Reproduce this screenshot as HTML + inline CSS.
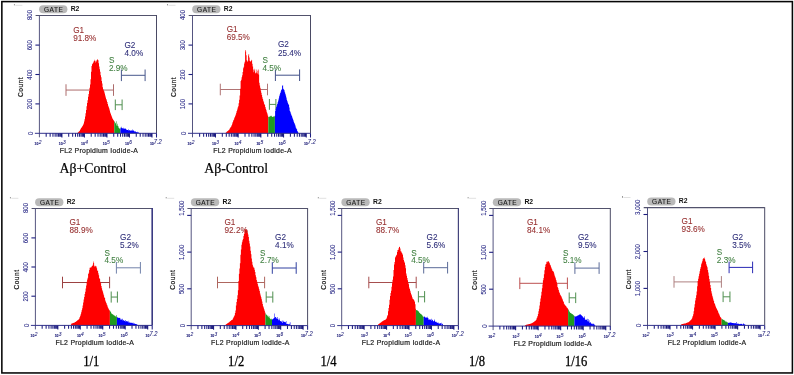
<!DOCTYPE html>
<html><head><meta charset="utf-8"><title>Cell cycle histograms</title>
<style>
html,body{margin:0;padding:0;background:#fff;}
body{width:794px;height:375px;overflow:hidden;font-family:"Liberation Sans",sans-serif;}
svg{display:block;will-change:transform;}
text{font-family:"Liberation Sans",sans-serif;}
.gl{font-size:8.2px;stroke-width:0.08px;}
.gate{font-size:6.5px;fill:#1a1a1a;stroke:#1a1a1a;stroke-width:0.12px;letter-spacing:0.55px;}
.r2{font-size:6.8px;font-weight:bold;fill:#111;}
.yt{font-size:6.6px;fill:#2c2c88;stroke:#2c2c88;stroke-width:0.08px;}
.cnt{font-size:6.7px;fill:#111;stroke:#111;stroke-width:0.18px;letter-spacing:0.45px;}
.xl{font-size:6.9px;fill:#1c1c1c;stroke:#1c1c1c;stroke-width:0.2px;letter-spacing:0.28px;}
.t10{font-size:3.5px;fill:#20207a;font-weight:bold;stroke:#20207a;stroke-width:0.1px;}
.texp{font-size:6.4px;fill:#20207a;font-style:italic;stroke:#20207a;stroke-width:0.08px;}
.cap{font-family:"Liberation Serif",serif;font-size:13.8px;fill:#000;stroke:#000;stroke-width:0.2px;}
.cap2{font-family:"Liberation Serif",serif;font-size:14px;fill:#000;stroke:#000;stroke-width:0.28px;}
</style></head><body>
<svg width="794" height="375" viewBox="0 0 794 375">
<rect x="0" y="0" width="794" height="375" fill="#ffffff"/>
<rect x="1.85" y="1.6" width="790.55" height="371.35" fill="none" stroke="#050505" stroke-width="1.55"/>
<circle cx="14.40" cy="4.70" r="0.55" fill="#555"/>
<path d="M15.40 5.30 h7" stroke="#ccc" stroke-width="0.6"/>
<rect x="39.10" y="5.20" width="28.30" height="8.00" rx="4" ry="4" fill="#b9b9b9"/>
<text x="53.65" y="11.80" class="gate" text-anchor="middle">GATE</text>
<text x="70.70" y="11.10" class="r2">R2</text>
<path d="M66.00 90.05 H113.50 M66.00 84.25 V95.85 M113.50 84.25 V95.85" stroke="#ad6c6c" stroke-width="1.00" fill="none"/>
<path d="M121.40 75.30 H145.10 M121.40 69.50 V81.10 M145.10 69.50 V81.10" stroke="#48588c" stroke-width="1.00" fill="none"/>
<path d="M115.30 99.50 V110.10 M122.10 99.50 V110.10 M115.30 104.80 H122.10" stroke="#4f8f4f" stroke-width="1" fill="none"/>
<path d="M77.50 133.30L77.50 132.67 L78.00 132.67L78.00 132.25 L78.50 132.25L78.50 131.73 L79.00 131.73L79.00 131.24 L79.50 131.24L79.50 130.65 L80.00 130.65L80.00 129.83 L80.50 129.83L80.50 128.84 L81.00 128.84L81.00 127.92 L81.50 127.92L81.50 127.25 L82.00 127.25L82.00 126.43 L82.50 126.43L82.50 125.65 L83.00 125.65L83.00 124.67 L83.50 124.67L83.50 123.58 L84.00 123.58L84.00 121.48 L84.50 121.48L84.50 119.18 L85.00 119.18L85.00 116.48 L85.50 116.48L85.50 113.17 L86.00 113.17L86.00 109.98 L86.50 109.98L86.50 106.34 L87.00 106.34L87.00 103.11 L87.50 103.11L87.50 100.30 L88.00 100.30L88.00 96.87 L88.50 96.87L88.50 94.02 L89.00 94.02L89.00 90.89 L89.50 90.89L89.50 87.65 L90.00 87.65L90.00 84.38 L90.50 84.38L90.50 79.36 L91.00 79.36L91.00 71.66 L91.50 71.66L91.50 65.91 L92.00 65.91L92.00 64.25 L92.50 64.25L92.50 63.38 L93.00 63.38L93.00 62.85 L93.50 62.85L93.50 61.55 L94.00 61.55L94.00 60.99 L94.50 60.99L94.50 59.66 L95.00 59.66L95.00 60.76 L95.50 60.76L95.50 62.57 L96.00 62.57L96.00 61.60 L96.50 61.60L96.50 60.29 L97.00 60.29L97.00 59.03 L97.50 59.03L97.50 60.03 L98.00 60.03L98.00 60.20 L98.50 60.20L98.50 63.17 L99.00 63.17L99.00 66.42 L99.50 66.42L99.50 69.15 L100.00 69.15L100.00 71.65 L100.50 71.65L100.50 75.33 L101.00 75.33L101.00 77.34 L101.50 77.34L101.50 80.93 L102.00 80.93L102.00 83.49 L102.50 83.49L102.50 87.18 L103.00 87.18L103.00 89.14 L103.50 89.14L103.50 90.55 L104.00 90.55L104.00 91.48 L104.50 91.48L104.50 93.39 L105.00 93.39L105.00 95.49 L105.50 95.49L105.50 97.38 L106.00 97.38L106.00 98.88 L106.50 98.88L106.50 100.61 L107.00 100.61L107.00 101.97 L107.50 101.97L107.50 104.08 L108.00 104.08L108.00 105.87 L108.50 105.87L108.50 107.17 L109.00 107.17L109.00 108.62 L109.50 108.62L109.50 110.47 L110.00 110.47L110.00 112.48 L110.50 112.48L110.50 113.71 L111.00 113.71L111.00 115.31 L111.50 115.31L111.50 116.41 L112.00 116.41L112.00 117.80 L112.50 117.80L112.50 119.04 L113.00 119.04L113.00 119.74 L113.50 119.74L113.50 120.56 L114.00 120.56L114.00 121.00 L114.30 121.00L114.30 133.30 Z" fill="#ff0000"/>
<path d="M114.30 133.30L114.30 121.00 L114.50 121.00L114.50 121.96 L115.00 121.96L115.00 122.64 L115.50 122.64L115.50 123.46 L116.00 123.46L116.00 121.21 L116.50 121.21L116.50 125.56 L117.00 125.56L117.00 125.86 L117.50 125.86L117.50 123.78 L118.00 123.78L118.00 126.23 L118.50 126.23L118.50 127.82 L119.00 127.82L119.00 128.41 L119.50 128.41L119.50 128.38 L120.00 128.38L120.00 127.44 L120.40 127.44L120.40 133.30 Z" fill="#1f9a1f"/>
<path d="M120.40 133.30L120.40 127.44 L120.50 127.44L120.50 128.57 L121.00 128.57L121.00 127.94 L121.50 127.94L121.50 126.80 L122.00 126.80L122.00 128.55 L122.50 128.55L122.50 127.90 L123.00 127.90L123.00 128.71 L123.50 128.71L123.50 127.75 L124.00 127.75L124.00 128.49 L124.50 128.49L124.50 128.72 L125.00 128.72L125.00 128.95 L125.50 128.95L125.50 128.27 L126.00 128.27L126.00 129.17 L126.50 129.17L126.50 129.93 L127.00 129.93L127.00 129.90 L127.50 129.90L127.50 130.07 L128.00 130.07L128.00 130.40 L128.50 130.40L128.50 129.17 L129.00 129.17L129.00 130.44 L129.50 130.44L129.50 130.01 L130.00 130.01L130.00 130.49 L130.50 130.49L130.50 130.80 L131.00 130.80L131.00 130.64 L131.50 130.64L131.50 130.15 L132.00 130.15L132.00 130.83 L132.50 130.83L132.50 129.54 L133.00 129.54L133.00 130.95 L133.50 130.95L133.50 130.09 L134.00 130.09L134.00 131.87 L134.50 131.87L134.50 131.00 L135.00 131.00L135.00 131.31 L135.50 131.31L135.50 131.82 L136.00 131.82L136.00 132.02 L136.50 132.02L136.50 132.35 L137.00 132.35L137.00 132.60 L137.50 132.60L137.50 131.68 L138.00 131.68L138.00 132.33 L138.50 132.33L138.50 132.81 L139.00 132.81L139.00 132.88 L139.50 132.88L139.50 132.96 L140.00 132.96L140.00 133.17 L140.50 133.17L140.50 133.12 L141.00 133.12L141.00 133.30 Z" fill="#0000ff"/>
<path d="M35.60 15.40 H156.50" stroke="#52526c" stroke-width="1.05" fill="none"/>
<path d="M156.50 15.00 V133.30" stroke="#4a4a64" stroke-width="1.00" fill="none"/>
<path d="M39.40 15.40 V137.30" stroke="#555580" stroke-width="1.0" fill="none"/>
<path d="M34.90 133.30 H156.50" stroke="#34348c" stroke-width="1.0" fill="none"/>
<path d="M46.18 133.30 v3.4M50.14 133.30 v3.4M52.96 133.30 v3.4M55.14 133.30 v3.4M56.92 133.30 v3.4M58.43 133.30 v3.4M59.74 133.30 v3.4M60.89 133.30 v3.4M61.92 133.30 v4.2M68.70 133.30 v3.4M72.66 133.30 v3.4M75.48 133.30 v3.4M77.66 133.30 v3.4M79.44 133.30 v3.4M80.95 133.30 v3.4M82.26 133.30 v3.4M83.41 133.30 v3.4M84.44 133.30 v4.2M91.22 133.30 v3.4M95.18 133.30 v3.4M98.00 133.30 v3.4M100.18 133.30 v3.4M101.96 133.30 v3.4M103.47 133.30 v3.4M104.78 133.30 v3.4M105.93 133.30 v3.4M106.96 133.30 v4.2M113.74 133.30 v3.4M117.70 133.30 v3.4M120.52 133.30 v3.4M122.70 133.30 v3.4M124.48 133.30 v3.4M125.99 133.30 v3.4M127.29 133.30 v3.4M128.45 133.30 v3.4M129.48 133.30 v4.2M136.26 133.30 v3.4M140.22 133.30 v3.4M143.03 133.30 v3.4M145.22 133.30 v3.4M147.00 133.30 v3.4M148.51 133.30 v3.4M149.81 133.30 v3.4M150.97 133.30 v3.4M152.00 133.30 v4.2M156.50 133.30 v4.2" stroke="#1c1c80" stroke-width="1.05" fill="none"/>
<text x="34.50" y="144.50" class="t10">10</text><text transform="translate(38.70 143.50) scale(0.85 1)" class="texp" style="font-size:5.8px">2</text>
<text x="58.72" y="144.50" class="t10">10</text><text transform="translate(62.92 143.50) scale(0.85 1)" class="texp" style="font-size:5.8px">3</text>
<text x="81.04" y="144.50" class="t10">10</text><text transform="translate(85.24 143.50) scale(0.85 1)" class="texp" style="font-size:5.8px">4</text>
<text x="102.76" y="144.50" class="t10">10</text><text transform="translate(106.96 143.50) scale(0.85 1)" class="texp" style="font-size:5.8px">5</text>
<text x="125.08" y="144.50" class="t10">10</text><text transform="translate(129.28 143.50) scale(0.85 1)" class="texp" style="font-size:5.8px">6</text>
<text x="149.90" y="144.50" class="t10">10</text><text transform="translate(153.70 143.50) scale(0.9 1)" class="texp">7.2</text>
<text transform="translate(32.80 133.30) rotate(-90) scale(0.93 1)" class="yt" text-anchor="middle">0</text>
<path d="M39.40 103.90 h-4" stroke="#1c1c80" stroke-width="1.1"/>
<text transform="translate(32.20 104.05) rotate(-90) scale(0.93 1)" class="yt" text-anchor="middle">200</text>
<path d="M39.40 74.50 h-4" stroke="#1c1c80" stroke-width="1.1"/>
<text transform="translate(32.20 74.65) rotate(-90) scale(0.93 1)" class="yt" text-anchor="middle">400</text>
<path d="M39.40 45.10 h-4" stroke="#1c1c80" stroke-width="1.1"/>
<text transform="translate(32.20 45.25) rotate(-90) scale(0.93 1)" class="yt" text-anchor="middle">600</text>
<text transform="translate(32.20 15.00) rotate(-90) scale(0.93 1)" class="yt" text-anchor="middle">800</text>
<text transform="translate(23.20 87.00) rotate(-90)" class="cnt" text-anchor="middle">Count</text>
<text x="98.95" y="152.70" class="xl" text-anchor="middle">FL2 Propidium Iodide-A</text>
<text x="73.20" y="32.70" fill="#962e2e" stroke="#962e2e" class="gl">G1</text><text x="73.20" y="40.60" fill="#962e2e" stroke="#962e2e" class="gl">91.8%</text>
<text x="124.50" y="47.80" fill="#2c2c78" stroke="#2c2c78" class="gl">G2</text><text x="124.50" y="55.90" fill="#2c2c78" stroke="#2c2c78" class="gl">4.0%</text>
<text x="108.90" y="62.80" fill="#3f7f3f" stroke="#3f7f3f" class="gl">S</text><text x="108.90" y="70.90" fill="#3f7f3f" stroke="#3f7f3f" class="gl">2.9%</text>
<circle cx="167.50" cy="4.70" r="0.55" fill="#555"/>
<path d="M168.50 5.30 h7" stroke="#ccc" stroke-width="0.6"/>
<rect x="192.20" y="5.20" width="28.30" height="8.00" rx="4" ry="4" fill="#b9b9b9"/>
<text x="206.75" y="11.80" class="gate" text-anchor="middle">GATE</text>
<text x="223.80" y="11.10" class="r2">R2</text>
<path d="M220.30 89.50 H267.50 M220.30 83.70 V95.30 M267.50 83.70 V95.30" stroke="#b07474" stroke-width="1.00" fill="none"/>
<path d="M275.40 75.20 H299.60 M275.40 69.40 V81.00 M299.60 69.40 V81.00" stroke="#425088" stroke-width="1.00" fill="none"/>
<path d="M269.40 99.00 V109.80 M275.90 99.00 V109.80 M269.40 104.40 H275.90" stroke="#4f8f4f" stroke-width="1" fill="none"/>
<path d="M225.60 133.30L225.60 132.70 L226.10 132.70L226.10 132.15 L226.60 132.15L226.60 131.79 L227.10 131.79L227.10 131.37 L227.60 131.37L227.60 130.99 L228.10 130.99L228.10 130.46 L228.60 130.46L228.60 130.10 L229.10 130.10L229.10 129.40 L229.60 129.40L229.60 128.57 L230.10 128.57L230.10 127.78 L230.60 127.78L230.60 127.00 L231.10 127.00L231.10 126.22 L231.60 126.22L231.60 124.93 L232.10 124.93L232.10 123.61 L232.60 123.61L232.60 122.09 L233.10 122.09L233.10 120.55 L233.60 120.55L233.60 119.73 L234.10 119.73L234.10 118.31 L234.60 118.31L234.60 117.00 L235.10 117.00L235.10 115.86 L235.60 115.86L235.60 114.40 L236.10 114.40L236.10 112.71 L236.60 112.71L236.60 110.91 L237.10 110.91L237.10 109.40 L237.60 109.40L237.60 107.46 L238.10 107.46L238.10 106.27 L238.60 106.27L238.60 103.15 L239.10 103.15L239.10 99.64 L239.60 99.64L239.60 95.52 L240.10 95.52L240.10 88.80 L240.60 88.80L240.60 81.02 L241.10 81.02L241.10 79.85 L241.60 79.85L241.60 77.28 L242.10 77.28L242.10 75.32 L242.60 75.32L242.60 72.04 L243.10 72.04L243.10 68.37 L243.60 68.37L243.60 66.69 L244.10 66.69L244.10 63.59 L244.60 63.59L244.60 61.69 L245.10 61.69L245.10 50.10 L245.60 50.10L245.60 51.46 L246.10 51.46L246.10 55.24 L246.60 55.24L246.60 60.37 L247.10 60.37L247.10 61.83 L247.60 61.83L247.60 60.71 L248.10 60.71L248.10 55.44 L248.60 55.44L248.60 54.02 L249.10 54.02L249.10 57.47 L249.60 57.47L249.60 60.77 L250.10 60.77L250.10 61.73 L250.60 61.73L250.60 61.02 L251.10 61.02L251.10 60.48 L251.60 60.48L251.60 59.64 L252.10 59.64L252.10 63.70 L252.60 63.70L252.60 66.40 L253.10 66.40L253.10 69.49 L253.60 69.49L253.60 72.35 L254.10 72.35L254.10 70.39 L254.60 70.39L254.60 68.72 L255.10 68.72L255.10 72.76 L255.60 72.76L255.60 73.55 L256.10 73.55L256.10 72.44 L256.60 72.44L256.60 69.61 L257.10 69.61L257.10 73.42 L257.60 73.42L257.60 70.81 L258.10 70.81L258.10 69.60 L258.60 69.60L258.60 74.54 L259.10 74.54L259.10 82.75 L259.60 82.75L259.60 85.44 L260.10 85.44L260.10 87.64 L260.60 87.64L260.60 90.61 L261.10 90.61L261.10 92.71 L261.60 92.71L261.60 95.03 L262.10 95.03L262.10 97.21 L262.60 97.21L262.60 98.99 L263.10 98.99L263.10 100.64 L263.60 100.64L263.60 102.30 L264.10 102.30L264.10 103.96 L264.60 103.96L264.60 104.97 L265.10 104.97L265.10 107.01 L265.60 107.01L265.60 108.66 L266.10 108.66L266.10 110.33 L266.60 110.33L266.60 112.13 L267.10 112.13L267.10 113.51 L267.60 113.51L267.60 115.45 L268.10 115.45L268.10 116.94 L268.30 116.94L268.30 133.30 Z" fill="#ff0000"/>
<path d="M268.30 133.30L268.30 116.94 L268.60 116.94L268.60 116.84 L269.10 116.84L269.10 116.65 L269.60 116.65L269.60 116.49 L270.10 116.49L270.10 116.14 L270.60 116.14L270.60 115.86 L271.10 115.86L271.10 115.67 L271.60 115.67L271.60 116.60 L272.10 116.60L272.10 116.97 L272.60 116.97L272.60 116.76 L273.10 116.76L273.10 116.46 L273.60 116.46L273.60 116.42 L274.10 116.42L274.10 116.43 L274.60 116.43L274.60 115.85 L274.90 115.85L274.90 133.30 Z" fill="#1f9a1f"/>
<path d="M274.90 133.30L274.90 115.85 L275.10 115.85L275.10 110.86 L275.60 110.86L275.60 108.84 L276.10 108.84L276.10 107.06 L276.60 107.06L276.60 105.49 L277.10 105.49L277.10 103.90 L277.60 103.90L277.60 102.37 L278.10 102.37L278.10 100.51 L278.60 100.51L278.60 98.55 L279.10 98.55L279.10 96.20 L279.60 96.20L279.60 94.56 L280.10 94.56L280.10 93.00 L280.60 93.00L280.60 91.61 L281.10 91.61L281.10 90.01 L281.60 90.01L281.60 89.30 L282.10 89.30L282.10 85.76 L282.60 85.76L282.60 85.19 L283.10 85.19L283.10 88.69 L283.60 88.69L283.60 89.50 L284.10 89.50L284.10 90.17 L284.60 90.17L284.60 92.21 L285.10 92.21L285.10 93.87 L285.60 93.87L285.60 95.41 L286.10 95.41L286.10 97.38 L286.60 97.38L286.60 99.66 L287.10 99.66L287.10 101.26 L287.60 101.26L287.60 102.84 L288.10 102.84L288.10 104.12 L288.60 104.12L288.60 104.97 L289.10 104.97L289.10 107.44 L289.60 107.44L289.60 110.82 L290.10 110.82L290.10 111.87 L290.60 111.87L290.60 113.53 L291.10 113.53L291.10 114.63 L291.60 114.63L291.60 116.07 L292.10 116.07L292.10 117.53 L292.60 117.53L292.60 118.82 L293.10 118.82L293.10 120.16 L293.60 120.16L293.60 121.68 L294.10 121.68L294.10 123.02 L294.60 123.02L294.60 124.36 L295.10 124.36L295.10 125.55 L295.60 125.55L295.60 127.52 L296.10 127.52L296.10 128.56 L296.60 128.56L296.60 129.14 L297.10 129.14L297.10 130.96 L297.60 130.96L297.60 131.86 L298.10 131.86L298.10 132.73 L298.60 132.73L298.60 133.30 Z" fill="#0000ff"/>
<path d="M188.70 15.40 H310.50" stroke="#52526c" stroke-width="1.05" fill="none"/>
<path d="M310.50 15.00 V133.30" stroke="#4a4a64" stroke-width="1.00" fill="none"/>
<path d="M192.50 15.40 V137.30" stroke="#555580" stroke-width="1.0" fill="none"/>
<path d="M188.00 133.30 H310.50" stroke="#34348c" stroke-width="1.0" fill="none"/>
<path d="M199.63 133.30 v3.4M203.63 133.30 v3.4M206.46 133.30 v3.4M208.66 133.30 v3.4M210.46 133.30 v3.4M211.98 133.30 v3.4M213.29 133.30 v3.4M214.45 133.30 v3.4M215.49 133.30 v4.2M222.32 133.30 v3.4M226.32 133.30 v3.4M229.15 133.30 v3.4M231.35 133.30 v3.4M233.15 133.30 v3.4M234.67 133.30 v3.4M235.99 133.30 v3.4M237.15 133.30 v3.4M238.18 133.30 v4.2M245.02 133.30 v3.4M249.01 133.30 v3.4M251.85 133.30 v3.4M254.05 133.30 v3.4M255.84 133.30 v3.4M257.36 133.30 v3.4M258.68 133.30 v3.4M259.84 133.30 v3.4M260.88 133.30 v4.2M267.71 133.30 v3.4M271.70 133.30 v3.4M274.54 133.30 v3.4M276.74 133.30 v3.4M278.53 133.30 v3.4M280.05 133.30 v3.4M281.37 133.30 v3.4M282.53 133.30 v3.4M283.57 133.30 v4.2M290.40 133.30 v3.4M294.40 133.30 v3.4M297.23 133.30 v3.4M299.43 133.30 v3.4M301.23 133.30 v3.4M302.75 133.30 v3.4M304.06 133.30 v3.4M305.22 133.30 v3.4M306.26 133.30 v4.2M310.50 133.30 v4.2" stroke="#1c1c80" stroke-width="1.05" fill="none"/>
<text x="187.60" y="144.50" class="t10">10</text><text transform="translate(191.80 143.50) scale(0.85 1)" class="texp" style="font-size:5.8px">2</text>
<text x="211.99" y="144.50" class="t10">10</text><text transform="translate(216.19 143.50) scale(0.85 1)" class="texp" style="font-size:5.8px">3</text>
<text x="234.48" y="144.50" class="t10">10</text><text transform="translate(238.68 143.50) scale(0.85 1)" class="texp" style="font-size:5.8px">4</text>
<text x="256.38" y="144.50" class="t10">10</text><text transform="translate(260.58 143.50) scale(0.85 1)" class="texp" style="font-size:5.8px">5</text>
<text x="278.87" y="144.50" class="t10">10</text><text transform="translate(283.07 143.50) scale(0.85 1)" class="texp" style="font-size:5.8px">6</text>
<text x="303.90" y="144.50" class="t10">10</text><text transform="translate(307.70 143.50) scale(0.9 1)" class="texp">7.2</text>
<text transform="translate(185.90 133.30) rotate(-90) scale(0.93 1)" class="yt" text-anchor="middle">0</text>
<path d="M192.50 103.90 h-4" stroke="#1c1c80" stroke-width="1.1"/>
<text transform="translate(185.30 104.05) rotate(-90) scale(0.93 1)" class="yt" text-anchor="middle">100</text>
<path d="M192.50 74.50 h-4" stroke="#1c1c80" stroke-width="1.1"/>
<text transform="translate(185.30 74.65) rotate(-90) scale(0.93 1)" class="yt" text-anchor="middle">200</text>
<path d="M192.50 45.10 h-4" stroke="#1c1c80" stroke-width="1.1"/>
<text transform="translate(185.30 45.25) rotate(-90) scale(0.93 1)" class="yt" text-anchor="middle">300</text>
<text transform="translate(185.30 15.00) rotate(-90) scale(0.93 1)" class="yt" text-anchor="middle">400</text>
<text transform="translate(176.30 87.00) rotate(-90)" class="cnt" text-anchor="middle">Count</text>
<text x="252.50" y="152.70" class="xl" text-anchor="middle">FL2 Propidium Iodide-A</text>
<text x="226.70" y="32.00" fill="#962e2e" stroke="#962e2e" class="gl">G1</text><text x="226.70" y="40.30" fill="#962e2e" stroke="#962e2e" class="gl">69.5%</text>
<text x="277.90" y="47.30" fill="#2c2c78" stroke="#2c2c78" class="gl">G2</text><text x="277.90" y="55.80" fill="#2c2c78" stroke="#2c2c78" class="gl">25.4%</text>
<text x="262.40" y="62.70" fill="#3f7f3f" stroke="#3f7f3f" class="gl">S</text><text x="262.40" y="70.80" fill="#3f7f3f" stroke="#3f7f3f" class="gl">4.5%</text>
<circle cx="10.40" cy="197.70" r="0.55" fill="#555"/>
<path d="M11.40 198.30 h7" stroke="#ccc" stroke-width="0.6"/>
<rect x="35.10" y="198.20" width="28.30" height="8.00" rx="4" ry="4" fill="#b9b9b9"/>
<text x="49.65" y="204.80" class="gate" text-anchor="middle">GATE</text>
<text x="66.70" y="204.10" class="r2">R2</text>
<path d="M62.50 282.50 H109.60 M62.50 276.70 V288.30 M109.60 276.70 V288.30" stroke="#9c4242" stroke-width="1.00" fill="none"/>
<path d="M116.40 267.80 H140.40 M116.40 262.00 V273.60 M140.40 262.00 V273.60" stroke="#7282aa" stroke-width="1.00" fill="none"/>
<path d="M111.20 291.50 V302.60 M117.40 291.50 V302.60 M111.20 297.05 H117.40" stroke="#4f8f4f" stroke-width="1" fill="none"/>
<path d="M71.10 325.40L71.10 323.71 L71.60 323.71L71.60 323.59 L72.10 323.59L72.10 323.23 L72.60 323.23L72.60 323.17 L73.10 323.17L73.10 322.88 L73.60 322.88L73.60 322.68 L74.10 322.68L74.10 322.65 L74.60 322.65L74.60 322.31 L75.10 322.31L75.10 322.01 L75.60 322.01L75.60 321.70 L76.10 321.70L76.10 321.36 L76.60 321.36L76.60 320.88 L77.10 320.88L77.10 320.57 L77.60 320.57L77.60 320.05 L78.10 320.05L78.10 319.73 L78.60 319.73L78.60 319.34 L79.10 319.34L79.10 318.39 L79.60 318.39L79.60 317.03 L80.10 317.03L80.10 315.67 L80.60 315.67L80.60 314.21 L81.10 314.21L81.10 312.29 L81.60 312.29L81.60 310.34 L82.10 310.34L82.10 308.13 L82.60 308.13L82.60 305.55 L83.10 305.55L83.10 302.58 L83.60 302.58L83.60 299.39 L84.10 299.39L84.10 296.97 L84.60 296.97L84.60 294.03 L85.10 294.03L85.10 291.64 L85.60 291.64L85.60 288.38 L86.10 288.38L86.10 285.42 L86.60 285.42L86.60 281.70 L87.10 281.70L87.10 279.45 L87.60 279.45L87.60 277.84 L88.10 277.84L88.10 274.03 L88.60 274.03L88.60 272.67 L89.10 272.67L89.10 269.99 L89.60 269.99L89.60 267.81 L90.10 267.81L90.10 267.65 L90.60 267.65L90.60 267.21 L91.10 267.21L91.10 267.19 L91.60 267.19L91.60 266.37 L92.10 266.37L92.10 265.96 L92.60 265.96L92.60 264.73 L93.10 264.73L93.10 261.53 L93.60 261.53L93.60 262.98 L94.10 262.98L94.10 265.80 L94.60 265.80L94.60 266.83 L95.10 266.83L95.10 265.74 L95.60 265.74L95.60 266.29 L96.10 266.29L96.10 266.56 L96.60 266.56L96.60 268.20 L97.10 268.20L97.10 270.83 L97.60 270.83L97.60 270.44 L98.10 270.44L98.10 273.20 L98.60 273.20L98.60 275.24 L99.10 275.24L99.10 278.18 L99.60 278.18L99.60 278.84 L100.10 278.84L100.10 281.84 L100.60 281.84L100.60 283.21 L101.10 283.21L101.10 285.90 L101.60 285.90L101.60 288.17 L102.10 288.17L102.10 290.26 L102.60 290.26L102.60 291.45 L103.10 291.45L103.10 293.45 L103.60 293.45L103.60 295.26 L104.10 295.26L104.10 297.32 L104.60 297.32L104.60 298.01 L105.10 298.01L105.10 300.58 L105.60 300.58L105.60 301.83 L106.10 301.83L106.10 302.92 L106.60 302.92L106.60 304.47 L107.10 304.47L107.10 305.62 L107.60 305.62L107.60 307.22 L108.10 307.22L108.10 308.17 L108.60 308.17L108.60 309.31 L109.10 309.31L109.10 310.23 L109.60 310.23L109.60 310.45 L109.90 310.45L109.90 325.40 Z" fill="#ff0000"/>
<path d="M109.90 325.40L109.90 310.45 L110.10 310.45L110.10 311.27 L110.60 311.27L110.60 312.05 L111.10 312.05L111.10 313.34 L111.60 313.34L111.60 313.68 L112.10 313.68L112.10 313.90 L112.60 313.90L112.60 314.61 L113.10 314.61L113.10 314.86 L113.60 314.86L113.60 315.17 L114.10 315.17L114.10 315.45 L114.60 315.45L114.60 315.86 L115.10 315.86L115.10 316.31 L115.60 316.31L115.60 316.58 L116.10 316.58L116.10 315.04 L116.60 315.04L116.60 316.68 L116.90 316.68L116.90 325.40 Z" fill="#1f9a1f"/>
<path d="M116.90 325.40L116.90 316.68 L117.10 316.68L117.10 317.40 L117.60 317.40L117.60 317.34 L118.10 317.34L118.10 318.05 L118.60 318.05L118.60 317.63 L119.10 317.63L119.10 318.07 L119.60 318.07L119.60 317.81 L120.10 317.81L120.10 319.80 L120.60 319.80L120.60 318.51 L121.10 318.51L121.10 320.07 L121.60 320.07L121.60 318.97 L122.10 318.97L122.10 318.82 L122.60 318.82L122.60 320.45 L123.10 320.45L123.10 319.90 L123.60 319.90L123.60 320.55 L124.10 320.55L124.10 320.66 L124.60 320.66L124.60 320.93 L125.10 320.93L125.10 320.04 L125.60 320.04L125.60 321.68 L126.10 321.68L126.10 320.89 L126.60 320.89L126.60 321.26 L127.10 321.26L127.10 320.96 L127.60 320.96L127.60 321.91 L128.10 321.91L128.10 322.41 L128.60 322.41L128.60 320.68 L129.10 320.68L129.10 322.42 L129.60 322.42L129.60 322.59 L130.10 322.59L130.10 322.52 L130.60 322.52L130.60 323.01 L131.10 323.01L131.10 322.84 L131.60 322.84L131.60 322.81 L132.10 322.81L132.10 323.17 L132.60 323.17L132.60 322.82 L133.10 322.82L133.10 322.87 L133.60 322.87L133.60 323.97 L134.10 323.97L134.10 323.38 L134.60 323.38L134.60 323.48 L135.10 323.48L135.10 324.06 L135.60 324.06L135.60 323.96 L136.10 323.96L136.10 324.34 L136.60 324.34L136.60 324.15 L137.10 324.15L137.10 324.75 L137.60 324.75L137.60 325.40 Z" fill="#0000ff"/>
<path d="M31.60 208.40 H152.20" stroke="#52526c" stroke-width="1.05" fill="none"/>
<path d="M152.20 208.00 V325.40" stroke="#3a3a82" stroke-width="1.60" fill="none"/>
<path d="M35.40 208.40 V329.40" stroke="#555580" stroke-width="1.0" fill="none"/>
<path d="M30.90 325.40 H152.20" stroke="#34348c" stroke-width="1.0" fill="none"/>
<path d="M42.16 325.40 v3.4M46.12 325.40 v3.4M48.92 325.40 v3.4M51.10 325.40 v3.4M52.88 325.40 v3.4M54.38 325.40 v3.4M55.68 325.40 v3.4M56.83 325.40 v3.4M57.86 325.40 v4.2M64.62 325.40 v3.4M68.58 325.40 v3.4M71.38 325.40 v3.4M73.56 325.40 v3.4M75.34 325.40 v3.4M76.84 325.40 v3.4M78.15 325.40 v3.4M79.30 325.40 v3.4M80.32 325.40 v4.2M87.08 325.40 v3.4M91.04 325.40 v3.4M93.85 325.40 v3.4M96.02 325.40 v3.4M97.80 325.40 v3.4M99.31 325.40 v3.4M100.61 325.40 v3.4M101.76 325.40 v3.4M102.78 325.40 v4.2M109.55 325.40 v3.4M113.50 325.40 v3.4M116.31 325.40 v3.4M118.48 325.40 v3.4M120.26 325.40 v3.4M121.77 325.40 v3.4M123.07 325.40 v3.4M124.22 325.40 v3.4M125.25 325.40 v4.2M132.01 325.40 v3.4M135.96 325.40 v3.4M138.77 325.40 v3.4M140.95 325.40 v3.4M142.72 325.40 v3.4M144.23 325.40 v3.4M145.53 325.40 v3.4M146.68 325.40 v3.4M147.71 325.40 v4.2M152.20 325.40 v4.2" stroke="#1c1c80" stroke-width="1.05" fill="none"/>
<text x="30.50" y="336.80" class="t10">10</text><text transform="translate(34.70 335.80) scale(0.85 1)" class="texp" style="font-size:5.8px">2</text>
<text x="54.66" y="336.80" class="t10">10</text><text transform="translate(58.86 335.80) scale(0.85 1)" class="texp" style="font-size:5.8px">3</text>
<text x="76.92" y="336.80" class="t10">10</text><text transform="translate(81.12 335.80) scale(0.85 1)" class="texp" style="font-size:5.8px">4</text>
<text x="98.58" y="336.80" class="t10">10</text><text transform="translate(102.78 335.80) scale(0.85 1)" class="texp" style="font-size:5.8px">5</text>
<text x="120.85" y="336.80" class="t10">10</text><text transform="translate(125.05 335.80) scale(0.85 1)" class="texp" style="font-size:5.8px">6</text>
<text x="145.60" y="336.80" class="t10">10</text><text transform="translate(149.40 335.80) scale(0.9 1)" class="texp">7.2</text>
<text transform="translate(28.80 325.40) rotate(-90) scale(0.93 1)" class="yt" text-anchor="middle">0</text>
<path d="M35.40 296.20 h-4" stroke="#1c1c80" stroke-width="1.1"/>
<text transform="translate(28.20 296.35) rotate(-90) scale(0.93 1)" class="yt" text-anchor="middle">200</text>
<path d="M35.40 267.00 h-4" stroke="#1c1c80" stroke-width="1.1"/>
<text transform="translate(28.20 267.15) rotate(-90) scale(0.93 1)" class="yt" text-anchor="middle">400</text>
<path d="M35.40 237.90 h-4" stroke="#1c1c80" stroke-width="1.1"/>
<text transform="translate(28.20 238.05) rotate(-90) scale(0.93 1)" class="yt" text-anchor="middle">600</text>
<text transform="translate(28.20 208.00) rotate(-90) scale(0.93 1)" class="yt" text-anchor="middle">800</text>
<text transform="translate(19.20 279.55) rotate(-90)" class="cnt" text-anchor="middle">Count</text>
<text x="94.80" y="344.80" class="xl" text-anchor="middle">FL2 Propidium Iodide-A</text>
<text x="69.50" y="224.90" fill="#962e2e" stroke="#962e2e" class="gl">G1</text><text x="69.50" y="232.80" fill="#962e2e" stroke="#962e2e" class="gl">88.9%</text>
<text x="120.10" y="240.30" fill="#2c2c78" stroke="#2c2c78" class="gl">G2</text><text x="120.10" y="248.40" fill="#2c2c78" stroke="#2c2c78" class="gl">5.2%</text>
<text x="104.50" y="255.70" fill="#3f7f3f" stroke="#3f7f3f" class="gl">S</text><text x="104.50" y="263.40" fill="#3f7f3f" stroke="#3f7f3f" class="gl">4.5%</text>
<circle cx="166.20" cy="197.70" r="0.55" fill="#555"/>
<path d="M167.20 198.30 h7" stroke="#ccc" stroke-width="0.6"/>
<rect x="190.90" y="198.20" width="28.30" height="8.00" rx="4" ry="4" fill="#b9b9b9"/>
<text x="205.45" y="204.80" class="gate" text-anchor="middle">GATE</text>
<text x="222.50" y="204.10" class="r2">R2</text>
<path d="M217.50 282.50 H264.60 M217.50 276.70 V288.30 M264.60 276.70 V288.30" stroke="#ae665e" stroke-width="1.00" fill="none"/>
<path d="M272.30 268.00 H296.20 M272.30 262.20 V273.80 M296.20 262.20 V273.80" stroke="#3040a0" stroke-width="1.00" fill="none"/>
<path d="M266.20 291.50 V302.60 M272.80 291.50 V302.60 M266.20 297.05 H272.80" stroke="#4f8f4f" stroke-width="1" fill="none"/>
<path d="M224.90 325.60L224.90 325.01 L225.40 325.01L225.40 324.66 L225.90 324.66L225.90 324.24 L226.40 324.24L226.40 323.94 L226.90 323.94L226.90 323.62 L227.40 323.62L227.40 323.24 L227.90 323.24L227.90 322.96 L228.40 322.96L228.40 322.46 L228.90 322.46L228.90 322.16 L229.40 322.16L229.40 321.69 L229.90 321.69L229.90 321.27 L230.40 321.27L230.40 320.90 L230.90 320.90L230.90 320.51 L231.40 320.51L231.40 320.11 L231.90 320.11L231.90 319.70 L232.40 319.70L232.40 319.42 L232.90 319.42L232.90 318.37 L233.40 318.37L233.40 317.15 L233.90 317.15L233.90 316.32 L234.40 316.32L234.40 315.24 L234.90 315.24L234.90 312.89 L235.40 312.89L235.40 310.62 L235.90 310.62L235.90 305.58 L236.40 305.58L236.40 301.96 L236.90 301.96L236.90 299.06 L237.40 299.06L237.40 295.30 L237.90 295.30L237.90 290.23 L238.40 290.23L238.40 281.07 L238.90 281.07L238.90 273.75 L239.40 273.75L239.40 268.59 L239.90 268.59L239.90 263.35 L240.40 263.35L240.40 254.85 L240.90 254.85L240.90 249.52 L241.40 249.52L241.40 244.67 L241.90 244.67L241.90 242.34 L242.40 242.34L242.40 240.35 L242.90 240.35L242.90 238.94 L243.40 238.94L243.40 235.95 L243.90 235.95L243.90 233.91 L244.40 233.91L244.40 229.46 L244.90 229.46L244.90 229.30 L245.40 229.30L245.40 229.53 L245.90 229.53L245.90 229.29 L246.40 229.29L246.40 229.74 L246.90 229.74L246.90 230.65 L247.40 230.65L247.40 232.52 L247.90 232.52L247.90 234.53 L248.40 234.53L248.40 236.90 L248.90 236.90L248.90 240.82 L249.40 240.82L249.40 243.52 L249.90 243.52L249.90 246.45 L250.40 246.45L250.40 250.66 L250.90 250.66L250.90 254.21 L251.40 254.21L251.40 258.59 L251.90 258.59L251.90 261.83 L252.40 261.83L252.40 264.83 L252.90 264.83L252.90 266.58 L253.40 266.58L253.40 267.48 L253.90 267.48L253.90 267.74 L254.40 267.74L254.40 269.65 L254.90 269.65L254.90 272.02 L255.40 272.02L255.40 275.29 L255.90 275.29L255.90 277.27 L256.40 277.27L256.40 279.99 L256.90 279.99L256.90 281.85 L257.40 281.85L257.40 283.67 L257.90 283.67L257.90 285.69 L258.40 285.69L258.40 287.37 L258.90 287.37L258.90 289.27 L259.40 289.27L259.40 291.00 L259.90 291.00L259.90 293.39 L260.40 293.39L260.40 295.52 L260.90 295.52L260.90 297.34 L261.40 297.34L261.40 299.33 L261.90 299.33L261.90 301.61 L262.40 301.61L262.40 303.92 L262.90 303.92L262.90 306.25 L263.40 306.25L263.40 307.44 L263.90 307.44L263.90 309.32 L264.40 309.32L264.40 310.64 L264.90 310.64L264.90 312.55 L265.40 312.55L265.40 325.60 Z" fill="#ff0000"/>
<path d="M265.40 325.60L265.40 313.55 L265.90 313.55L265.90 314.39 L266.40 314.39L266.40 314.84 L266.90 314.84L266.90 315.35 L267.40 315.35L267.40 316.35 L267.90 316.35L267.90 315.68 L268.40 315.68L268.40 316.93 L268.90 316.93L268.90 317.92 L269.40 317.92L269.40 316.33 L269.90 316.33L269.90 318.84 L270.40 318.84L270.40 319.19 L270.90 319.19L270.90 318.54 L271.40 318.54L271.40 319.33 L271.90 319.33L271.90 319.74 L272.00 319.74L272.00 325.60 Z" fill="#1f9a1f"/>
<path d="M272.00 325.60L272.00 319.74 L272.40 319.74L272.40 319.11 L272.90 319.11L272.90 318.93 L273.40 318.93L273.40 318.18 L273.90 318.18L273.90 318.11 L274.40 318.11L274.40 313.62 L274.90 313.62L274.90 316.90 L275.40 316.90L275.40 317.04 L275.90 317.04L275.90 318.59 L276.40 318.59L276.40 317.72 L276.90 317.72L276.90 319.09 L277.40 319.09L277.40 317.03 L277.90 317.03L277.90 318.77 L278.40 318.77L278.40 320.26 L278.90 320.26L278.90 319.91 L279.40 319.91L279.40 318.50 L279.90 318.50L279.90 321.09 L280.40 321.09L280.40 321.00 L280.90 321.00L280.90 321.97 L281.40 321.97L281.40 321.25 L281.90 321.25L281.90 320.59 L282.40 320.59L282.40 322.96 L282.90 322.96L282.90 320.67 L283.40 320.67L283.40 321.63 L283.90 321.63L283.90 321.88 L284.40 321.88L284.40 321.86 L284.90 321.86L284.90 322.31 L285.40 322.31L285.40 322.27 L285.90 322.27L285.90 321.12 L286.40 321.12L286.40 324.03 L286.90 324.03L286.90 323.71 L287.40 323.71L287.40 324.10 L287.90 324.10L287.90 324.17 L288.40 324.17L288.40 324.33 L288.90 324.33L288.90 324.55 L289.40 324.55L289.40 323.71 L289.90 323.71L289.90 322.14 L290.40 322.14L290.40 325.15 L290.90 325.15L290.90 325.29 L291.40 325.29L291.40 325.05 L291.90 325.05L291.90 325.15 L292.40 325.15L292.40 325.34 L292.90 325.34L292.90 325.32 L293.40 325.32L293.40 325.60 Z" fill="#0000ff"/>
<path d="M187.40 208.40 H307.60" stroke="#52526c" stroke-width="1.05" fill="none"/>
<path d="M307.60 208.00 V325.60" stroke="#4a4a64" stroke-width="1.00" fill="none"/>
<path d="M191.20 208.40 V329.60" stroke="#555580" stroke-width="1.0" fill="none"/>
<path d="M186.70 325.60 H307.60" stroke="#34348c" stroke-width="1.0" fill="none"/>
<path d="M197.94 325.60 v3.4M201.88 325.60 v3.4M204.68 325.60 v3.4M206.85 325.60 v3.4M208.62 325.60 v3.4M210.12 325.60 v3.4M211.42 325.60 v3.4M212.56 325.60 v3.4M213.58 325.60 v4.2M220.32 325.60 v3.4M224.26 325.60 v3.4M227.06 325.60 v3.4M229.23 325.60 v3.4M231.00 325.60 v3.4M232.50 325.60 v3.4M233.80 325.60 v3.4M234.94 325.60 v3.4M235.97 325.60 v4.2M242.71 325.60 v3.4M246.65 325.60 v3.4M249.45 325.60 v3.4M251.62 325.60 v3.4M253.39 325.60 v3.4M254.89 325.60 v3.4M256.18 325.60 v3.4M257.33 325.60 v3.4M258.35 325.60 v4.2M265.09 325.60 v3.4M269.03 325.60 v3.4M271.83 325.60 v3.4M274.00 325.60 v3.4M275.77 325.60 v3.4M277.27 325.60 v3.4M278.57 325.60 v3.4M279.71 325.60 v3.4M280.74 325.60 v4.2M287.48 325.60 v3.4M291.42 325.60 v3.4M294.22 325.60 v3.4M296.38 325.60 v3.4M298.16 325.60 v3.4M299.66 325.60 v3.4M300.95 325.60 v3.4M302.10 325.60 v3.4M303.12 325.60 v4.2M307.60 325.60 v4.2" stroke="#1c1c80" stroke-width="1.05" fill="none"/>
<text x="186.30" y="337.00" class="t10">10</text><text transform="translate(190.50 336.00) scale(0.85 1)" class="texp" style="font-size:5.8px">2</text>
<text x="210.38" y="337.00" class="t10">10</text><text transform="translate(214.58 336.00) scale(0.85 1)" class="texp" style="font-size:5.8px">3</text>
<text x="232.57" y="337.00" class="t10">10</text><text transform="translate(236.77 336.00) scale(0.85 1)" class="texp" style="font-size:5.8px">4</text>
<text x="254.15" y="337.00" class="t10">10</text><text transform="translate(258.35 336.00) scale(0.85 1)" class="texp" style="font-size:5.8px">5</text>
<text x="276.34" y="337.00" class="t10">10</text><text transform="translate(280.54 336.00) scale(0.85 1)" class="texp" style="font-size:5.8px">6</text>
<text x="301.00" y="337.00" class="t10">10</text><text transform="translate(304.80 336.00) scale(0.9 1)" class="texp">7.2</text>
<text transform="translate(184.60 325.60) rotate(-90) scale(0.93 1)" class="yt" text-anchor="middle">0</text>
<path d="M191.20 288.80 h-4" stroke="#1c1c80" stroke-width="1.1"/>
<text transform="translate(184.00 288.95) rotate(-90) scale(0.93 1)" class="yt" text-anchor="middle">500</text>
<path d="M191.20 252.10 h-4" stroke="#1c1c80" stroke-width="1.1"/>
<text transform="translate(184.00 252.25) rotate(-90) scale(0.93 1)" class="yt" text-anchor="middle">1,000</text>
<path d="M191.20 215.40 h-4" stroke="#1c1c80" stroke-width="1.1"/>
<text transform="translate(184.00 208.20) rotate(-90) scale(0.93 1)" class="yt" text-anchor="middle">1,500</text>
<text transform="translate(175.00 279.65) rotate(-90)" class="cnt" text-anchor="middle">Count</text>
<text x="250.40" y="345.00" class="xl" text-anchor="middle">FL2 Propidium Iodide-A</text>
<text x="224.50" y="224.90" fill="#962e2e" stroke="#962e2e" class="gl">G1</text><text x="224.50" y="232.80" fill="#962e2e" stroke="#962e2e" class="gl">92.2%</text>
<text x="275.10" y="240.30" fill="#2c2c78" stroke="#2c2c78" class="gl">G2</text><text x="275.10" y="248.40" fill="#2c2c78" stroke="#2c2c78" class="gl">4.1%</text>
<text x="260.10" y="255.70" fill="#3f7f3f" stroke="#3f7f3f" class="gl">S</text><text x="260.10" y="263.40" fill="#3f7f3f" stroke="#3f7f3f" class="gl">2.7%</text>
<circle cx="318.30" cy="197.70" r="0.55" fill="#555"/>
<path d="M319.30 198.30 h7" stroke="#ccc" stroke-width="0.6"/>
<rect x="341.40" y="198.20" width="28.30" height="8.00" rx="4" ry="4" fill="#b9b9b9"/>
<text x="355.95" y="204.80" class="gate" text-anchor="middle">GATE</text>
<text x="373.00" y="204.10" class="r2">R2</text>
<path d="M368.80 282.50 H416.20 M368.80 276.70 V288.30 M416.20 276.70 V288.30" stroke="#a64e4e" stroke-width="1.00" fill="none"/>
<path d="M423.70 267.70 H447.60 M423.70 261.90 V273.50 M447.60 261.90 V273.50" stroke="#5a6a98" stroke-width="1.00" fill="none"/>
<path d="M418.40 291.10 V302.40 M424.60 291.10 V302.40 M418.40 296.75 H424.60" stroke="#4f8f4f" stroke-width="1" fill="none"/>
<path d="M378.00 325.60L378.00 324.51 L378.50 324.51L378.50 324.05 L379.00 324.05L379.00 323.73 L379.50 323.73L379.50 323.18 L380.00 323.18L380.00 322.94 L380.50 322.94L380.50 322.43 L381.00 322.43L381.00 322.28 L381.50 322.28L381.50 321.85 L382.00 321.85L382.00 321.55 L382.50 321.55L382.50 321.08 L383.00 321.08L383.00 320.87 L383.50 320.87L383.50 320.54 L384.00 320.54L384.00 320.23 L384.50 320.23L384.50 320.02 L385.00 320.02L385.00 319.63 L385.50 319.63L385.50 319.42 L386.00 319.42L386.00 319.12 L386.50 319.12L386.50 317.74 L387.00 317.74L387.00 316.36 L387.50 316.36L387.50 315.07 L388.00 315.07L388.00 311.28 L388.50 311.28L388.50 307.89 L389.00 307.89L389.00 304.63 L389.50 304.63L389.50 299.64 L390.00 299.64L390.00 296.02 L390.50 296.02L390.50 292.98 L391.00 292.98L391.00 290.75 L391.50 290.75L391.50 286.86 L392.00 286.86L392.00 283.33 L392.50 283.33L392.50 279.82 L393.00 279.82L393.00 276.49 L393.50 276.49L393.50 269.95 L394.00 269.95L394.00 264.47 L394.50 264.47L394.50 261.92 L395.00 261.92L395.00 257.38 L395.50 257.38L395.50 256.42 L396.00 256.42L396.00 255.46 L396.50 255.46L396.50 254.76 L397.00 254.76L397.00 252.01 L397.50 252.01L397.50 249.99 L398.00 249.99L398.00 249.98 L398.50 249.98L398.50 248.14 L399.00 248.14L399.00 246.95 L399.50 246.95L399.50 246.71 L400.00 246.71L400.00 248.48 L400.50 248.48L400.50 251.28 L401.00 251.28L401.00 251.46 L401.50 251.46L401.50 252.74 L402.00 252.74L402.00 253.44 L402.50 253.44L402.50 254.68 L403.00 254.68L403.00 257.61 L403.50 257.61L403.50 259.92 L404.00 259.92L404.00 261.51 L404.50 261.51L404.50 262.64 L405.00 262.64L405.00 265.28 L405.50 265.28L405.50 268.31 L406.00 268.31L406.00 273.39 L406.50 273.39L406.50 275.77 L407.00 275.77L407.00 278.02 L407.50 278.02L407.50 280.16 L408.00 280.16L408.00 282.52 L408.50 282.52L408.50 284.36 L409.00 284.36L409.00 287.41 L409.50 287.41L409.50 289.11 L410.00 289.11L410.00 290.70 L410.50 290.70L410.50 292.71 L411.00 292.71L411.00 294.15 L411.50 294.15L411.50 295.62 L412.00 295.62L412.00 297.19 L412.50 297.19L412.50 298.79 L413.00 298.79L413.00 299.08 L413.50 299.08L413.50 299.80 L414.00 299.80L414.00 300.43 L414.50 300.43L414.50 301.78 L415.00 301.78L415.00 304.37 L415.50 304.37L415.50 308.81 L415.90 308.81L415.90 325.60 Z" fill="#ff0000"/>
<path d="M415.90 325.60L415.90 308.81 L416.00 308.81L416.00 309.98 L416.50 309.98L416.50 310.17 L417.00 310.17L417.00 310.37 L417.50 310.37L417.50 310.63 L418.00 310.63L418.00 311.18 L418.50 311.18L418.50 311.48 L419.00 311.48L419.00 312.59 L419.50 312.59L419.50 312.98 L420.00 312.98L420.00 313.60 L420.50 313.60L420.50 314.09 L421.00 314.09L421.00 314.34 L421.50 314.34L421.50 314.86 L422.00 314.86L422.00 315.37 L422.50 315.37L422.50 316.17 L423.00 316.17L423.00 316.38 L423.50 316.38L423.50 317.10 L423.70 317.10L423.70 325.60 Z" fill="#1f9a1f"/>
<path d="M423.70 325.60L423.70 317.10 L424.00 317.10L424.00 317.05 L424.50 317.05L424.50 316.33 L425.00 316.33L425.00 318.03 L425.50 318.03L425.50 316.92 L426.00 316.92L426.00 318.00 L426.50 318.00L426.50 317.04 L427.00 317.04L427.00 318.02 L427.50 318.02L427.50 316.86 L428.00 316.86L428.00 318.34 L428.50 318.34L428.50 319.71 L429.00 319.71L429.00 319.96 L429.50 319.96L429.50 319.01 L430.00 319.01L430.00 319.71 L430.50 319.71L430.50 319.52 L431.00 319.52L431.00 320.80 L431.50 320.80L431.50 318.86 L432.00 318.86L432.00 320.19 L432.50 320.19L432.50 319.70 L433.00 319.70L433.00 320.93 L433.50 320.93L433.50 321.60 L434.00 321.60L434.00 319.62 L434.50 319.62L434.50 320.83 L435.00 320.83L435.00 321.60 L435.50 321.60L435.50 322.06 L436.00 322.06L436.00 322.58 L436.50 322.58L436.50 321.79 L437.00 321.79L437.00 323.11 L437.50 323.11L437.50 322.45 L438.00 322.45L438.00 322.41 L438.50 322.41L438.50 323.61 L439.00 323.61L439.00 323.81 L439.50 323.81L439.50 323.37 L440.00 323.37L440.00 323.39 L440.50 323.39L440.50 322.96 L441.00 322.96L441.00 324.78 L441.50 324.78L441.50 322.65 L442.00 322.65L442.00 323.78 L442.50 323.78L442.50 324.29 L443.00 324.29L443.00 325.12 L443.50 325.12L443.50 325.19 L444.00 325.19L444.00 325.60 Z" fill="#0000ff"/>
<path d="M337.90 208.40 H458.40" stroke="#52526c" stroke-width="1.05" fill="none"/>
<path d="M458.40 208.00 V325.60" stroke="#44447c" stroke-width="1.20" fill="none"/>
<path d="M341.70 208.40 V329.60" stroke="#555580" stroke-width="1.0" fill="none"/>
<path d="M337.20 325.60 H458.40" stroke="#34348c" stroke-width="1.0" fill="none"/>
<path d="M348.46 325.60 v3.4M352.41 325.60 v3.4M355.21 325.60 v3.4M357.39 325.60 v3.4M359.16 325.60 v3.4M360.67 325.60 v3.4M361.97 325.60 v3.4M363.12 325.60 v3.4M364.14 325.60 v4.2M370.90 325.60 v3.4M374.85 325.60 v3.4M377.65 325.60 v3.4M379.83 325.60 v3.4M381.61 325.60 v3.4M383.11 325.60 v3.4M384.41 325.60 v3.4M385.56 325.60 v3.4M386.58 325.60 v4.2M393.34 325.60 v3.4M397.29 325.60 v3.4M400.10 325.60 v3.4M402.27 325.60 v3.4M404.05 325.60 v3.4M405.55 325.60 v3.4M406.85 325.60 v3.4M408.00 325.60 v3.4M409.03 325.60 v4.2M415.78 325.60 v3.4M419.73 325.60 v3.4M422.54 325.60 v3.4M424.71 325.60 v3.4M426.49 325.60 v3.4M427.99 325.60 v3.4M429.29 325.60 v3.4M430.44 325.60 v3.4M431.47 325.60 v4.2M438.23 325.60 v3.4M442.18 325.60 v3.4M444.98 325.60 v3.4M447.16 325.60 v3.4M448.93 325.60 v3.4M450.44 325.60 v3.4M451.74 325.60 v3.4M452.88 325.60 v3.4M453.91 325.60 v4.2M458.40 325.60 v4.2" stroke="#1c1c80" stroke-width="1.05" fill="none"/>
<text x="336.80" y="337.00" class="t10">10</text><text transform="translate(341.00 336.00) scale(0.85 1)" class="texp" style="font-size:5.8px">2</text>
<text x="360.94" y="337.00" class="t10">10</text><text transform="translate(365.14 336.00) scale(0.85 1)" class="texp" style="font-size:5.8px">3</text>
<text x="383.18" y="337.00" class="t10">10</text><text transform="translate(387.38 336.00) scale(0.85 1)" class="texp" style="font-size:5.8px">4</text>
<text x="404.83" y="337.00" class="t10">10</text><text transform="translate(409.03 336.00) scale(0.85 1)" class="texp" style="font-size:5.8px">5</text>
<text x="427.07" y="337.00" class="t10">10</text><text transform="translate(431.27 336.00) scale(0.85 1)" class="texp" style="font-size:5.8px">6</text>
<text x="451.80" y="337.00" class="t10">10</text><text transform="translate(455.60 336.00) scale(0.9 1)" class="texp">7.2</text>
<text transform="translate(335.10 325.60) rotate(-90) scale(0.93 1)" class="yt" text-anchor="middle">0</text>
<path d="M341.70 288.80 h-4" stroke="#1c1c80" stroke-width="1.1"/>
<text transform="translate(334.50 288.95) rotate(-90) scale(0.93 1)" class="yt" text-anchor="middle">500</text>
<path d="M341.70 252.10 h-4" stroke="#1c1c80" stroke-width="1.1"/>
<text transform="translate(334.50 252.25) rotate(-90) scale(0.93 1)" class="yt" text-anchor="middle">1,000</text>
<path d="M341.70 215.40 h-4" stroke="#1c1c80" stroke-width="1.1"/>
<text transform="translate(334.50 208.20) rotate(-90) scale(0.93 1)" class="yt" text-anchor="middle">1,500</text>
<text transform="translate(325.50 279.65) rotate(-90)" class="cnt" text-anchor="middle">Count</text>
<text x="401.05" y="345.00" class="xl" text-anchor="middle">FL2 Propidium Iodide-A</text>
<text x="376.00" y="224.90" fill="#962e2e" stroke="#962e2e" class="gl">G1</text><text x="376.00" y="232.80" fill="#962e2e" stroke="#962e2e" class="gl">88.7%</text>
<text x="426.60" y="240.30" fill="#2c2c78" stroke="#2c2c78" class="gl">G2</text><text x="426.60" y="248.40" fill="#2c2c78" stroke="#2c2c78" class="gl">5.6%</text>
<text x="411.20" y="255.70" fill="#3f7f3f" stroke="#3f7f3f" class="gl">S</text><text x="411.20" y="263.40" fill="#3f7f3f" stroke="#3f7f3f" class="gl">4.5%</text>
<circle cx="468.10" cy="197.70" r="0.55" fill="#555"/>
<path d="M469.10 198.30 h7" stroke="#ccc" stroke-width="0.6"/>
<rect x="492.80" y="198.20" width="28.30" height="8.00" rx="4" ry="4" fill="#b9b9b9"/>
<text x="507.35" y="204.80" class="gate" text-anchor="middle">GATE</text>
<text x="524.40" y="204.10" class="r2">R2</text>
<path d="M519.80 283.30 H567.40 M519.80 277.50 V289.10 M567.40 277.50 V289.10" stroke="#bc5050" stroke-width="1.00" fill="none"/>
<path d="M574.90 268.10 H599.10 M574.90 262.30 V273.90 M599.10 262.30 V273.90" stroke="#5c6c9a" stroke-width="1.00" fill="none"/>
<path d="M569.20 292.50 V303.10 M575.70 292.50 V303.10 M569.20 297.80 H575.70" stroke="#4f8f4f" stroke-width="1" fill="none"/>
<path d="M524.90 326.10L524.90 325.46 L525.40 325.46L525.40 325.00 L525.90 325.00L525.90 324.74 L526.40 324.74L526.40 324.66 L526.90 324.66L526.90 324.60 L527.40 324.60L527.40 324.39 L527.90 324.39L527.90 324.16 L528.40 324.16L528.40 324.14 L528.90 324.14L528.90 323.92 L529.40 323.92L529.40 323.93 L529.90 323.93L529.90 323.70 L530.40 323.70L530.40 323.70 L530.90 323.70L530.90 323.45 L531.40 323.45L531.40 323.26 L531.90 323.26L531.90 323.07 L532.40 323.07L532.40 322.76 L532.90 322.76L532.90 322.44 L533.40 322.44L533.40 322.12 L533.90 322.12L533.90 321.68 L534.40 321.68L534.40 321.23 L534.90 321.23L534.90 320.95 L535.40 320.95L535.40 320.43 L535.90 320.43L535.90 320.10 L536.40 320.10L536.40 318.61 L536.90 318.61L536.90 317.42 L537.40 317.42L537.40 315.99 L537.90 315.99L537.90 313.99 L538.40 313.99L538.40 311.32 L538.90 311.32L538.90 308.68 L539.40 308.68L539.40 305.48 L539.90 305.48L539.90 301.79 L540.40 301.79L540.40 298.39 L540.90 298.39L540.90 295.58 L541.40 295.58L541.40 291.69 L541.90 291.69L541.90 288.16 L542.40 288.16L542.40 284.52 L542.90 284.52L542.90 280.22 L543.40 280.22L543.40 278.05 L543.90 278.05L543.90 274.24 L544.40 274.24L544.40 270.32 L544.90 270.32L544.90 267.08 L545.40 267.08L545.40 264.40 L545.90 264.40L545.90 264.05 L546.40 264.05L546.40 261.73 L546.90 261.73L546.90 262.21 L547.40 262.21L547.40 261.41 L547.90 261.41L547.90 260.89 L548.40 260.89L548.40 261.46 L548.90 261.46L548.90 262.19 L549.40 262.19L549.40 263.32 L549.90 263.32L549.90 264.82 L550.40 264.82L550.40 265.42 L550.90 265.42L550.90 267.36 L551.40 267.36L551.40 268.62 L551.90 268.62L551.90 269.50 L552.40 269.50L552.40 270.89 L552.90 270.89L552.90 271.12 L553.40 271.12L553.40 271.93 L553.90 271.93L553.90 273.45 L554.40 273.45L554.40 275.60 L554.90 275.60L554.90 276.67 L555.40 276.67L555.40 278.32 L555.90 278.32L555.90 280.04 L556.40 280.04L556.40 281.65 L556.90 281.65L556.90 283.66 L557.40 283.66L557.40 286.93 L557.90 286.93L557.90 288.24 L558.40 288.24L558.40 289.95 L558.90 289.95L558.90 291.63 L559.40 291.63L559.40 293.08 L559.90 293.08L559.90 294.47 L560.40 294.47L560.40 295.37 L560.90 295.37L560.90 296.10 L561.40 296.10L561.40 297.24 L561.90 297.24L561.90 298.44 L562.40 298.44L562.40 299.53 L562.90 299.53L562.90 301.07 L563.40 301.07L563.40 302.11 L563.90 302.11L563.90 303.66 L564.40 303.66L564.40 304.46 L564.90 304.46L564.90 305.23 L565.40 305.23L565.40 305.69 L565.90 305.69L565.90 306.29 L566.40 306.29L566.40 307.23 L566.90 307.23L566.90 307.77 L567.40 307.77L567.40 308.15 L567.90 308.15L567.90 308.88 L568.10 308.88L568.10 326.10 Z" fill="#ff0000"/>
<path d="M568.10 326.10L568.10 308.88 L568.40 308.88L568.40 310.10 L568.90 310.10L568.90 311.00 L569.40 311.00L569.40 312.04 L569.90 312.04L569.90 312.78 L570.40 312.78L570.40 312.97 L570.90 312.97L570.90 313.14 L571.40 313.14L571.40 313.63 L571.90 313.63L571.90 313.91 L572.40 313.91L572.40 314.19 L572.90 314.19L572.90 314.78 L573.40 314.78L573.40 315.30 L573.90 315.30L573.90 315.68 L574.40 315.68L574.40 326.10 Z" fill="#1f9a1f"/>
<path d="M574.40 326.10L574.40 316.35 L574.90 316.35L574.90 316.43 L575.40 316.43L575.40 316.51 L575.90 316.51L575.90 316.24 L576.40 316.24L576.40 316.14 L576.90 316.14L576.90 315.94 L577.40 315.94L577.40 315.53 L577.90 315.53L577.90 315.35 L578.40 315.35L578.40 315.22 L578.90 315.22L578.90 314.79 L579.40 314.79L579.40 314.60 L579.90 314.60L579.90 314.26 L580.40 314.26L580.40 314.55 L580.90 314.55L580.90 315.08 L581.40 315.08L581.40 315.53 L581.90 315.53L581.90 316.03 L582.40 316.03L582.40 316.52 L582.90 316.52L582.90 317.22 L583.40 317.22L583.40 317.63 L583.90 317.63L583.90 317.82 L584.40 317.82L584.40 316.18 L584.90 316.18L584.90 319.38 L585.40 319.38L585.40 319.78 L585.90 319.78L585.90 319.90 L586.40 319.90L586.40 319.38 L586.90 319.38L586.90 318.78 L587.40 318.78L587.40 321.15 L587.90 321.15L587.90 318.97 L588.40 318.97L588.40 321.41 L588.90 321.41L588.90 320.29 L589.40 320.29L589.40 322.87 L589.90 322.87L589.90 322.55 L590.40 322.55L590.40 322.16 L590.90 322.16L590.90 323.47 L591.40 323.47L591.40 323.82 L591.90 323.82L591.90 323.42 L592.40 323.42L592.40 324.23 L592.90 324.23L592.90 323.67 L593.40 323.67L593.40 323.63 L593.90 323.63L593.90 324.75 L594.40 324.75L594.40 324.41 L594.90 324.41L594.90 325.71 L595.40 325.71L595.40 325.87 L595.90 325.87L595.90 326.10 Z" fill="#0000ff"/>
<path d="M489.30 208.40 H610.30" stroke="#52526c" stroke-width="1.05" fill="none"/>
<path d="M610.30 208.00 V326.10" stroke="#4a4a64" stroke-width="1.00" fill="none"/>
<path d="M493.10 208.40 V330.10" stroke="#555580" stroke-width="1.0" fill="none"/>
<path d="M488.60 326.10 H610.30" stroke="#34348c" stroke-width="1.0" fill="none"/>
<path d="M499.88 326.10 v3.4M503.85 326.10 v3.4M506.67 326.10 v3.4M508.85 326.10 v3.4M510.64 326.10 v3.4M512.15 326.10 v3.4M513.45 326.10 v3.4M514.61 326.10 v3.4M515.64 326.10 v4.2M522.42 326.10 v3.4M526.39 326.10 v3.4M529.21 326.10 v3.4M531.39 326.10 v3.4M533.18 326.10 v3.4M534.69 326.10 v3.4M535.99 326.10 v3.4M537.15 326.10 v3.4M538.18 326.10 v4.2M544.96 326.10 v3.4M548.93 326.10 v3.4M551.75 326.10 v3.4M553.93 326.10 v3.4M555.72 326.10 v3.4M557.22 326.10 v3.4M558.53 326.10 v3.4M559.68 326.10 v3.4M560.72 326.10 v4.2M567.50 326.10 v3.4M571.47 326.10 v3.4M574.28 326.10 v3.4M576.47 326.10 v3.4M578.25 326.10 v3.4M579.76 326.10 v3.4M581.07 326.10 v3.4M582.22 326.10 v3.4M583.25 326.10 v4.2M590.04 326.10 v3.4M594.01 326.10 v3.4M596.82 326.10 v3.4M599.01 326.10 v3.4M600.79 326.10 v3.4M602.30 326.10 v3.4M603.61 326.10 v3.4M604.76 326.10 v3.4M605.79 326.10 v4.2M610.30 326.10 v4.2" stroke="#1c1c80" stroke-width="1.05" fill="none"/>
<text x="488.20" y="337.50" class="t10">10</text><text transform="translate(492.40 336.50) scale(0.85 1)" class="texp" style="font-size:5.8px">2</text>
<text x="512.44" y="337.50" class="t10">10</text><text transform="translate(516.64 336.50) scale(0.85 1)" class="texp" style="font-size:5.8px">3</text>
<text x="534.78" y="337.50" class="t10">10</text><text transform="translate(538.98 336.50) scale(0.85 1)" class="texp" style="font-size:5.8px">4</text>
<text x="556.52" y="337.50" class="t10">10</text><text transform="translate(560.72 336.50) scale(0.85 1)" class="texp" style="font-size:5.8px">5</text>
<text x="578.85" y="337.50" class="t10">10</text><text transform="translate(583.05 336.50) scale(0.85 1)" class="texp" style="font-size:5.8px">6</text>
<text x="603.70" y="337.50" class="t10">10</text><text transform="translate(607.50 336.50) scale(0.9 1)" class="texp">7.2</text>
<text transform="translate(486.50 326.10) rotate(-90) scale(0.93 1)" class="yt" text-anchor="middle">0</text>
<path d="M493.10 289.20 h-4" stroke="#1c1c80" stroke-width="1.1"/>
<text transform="translate(485.90 289.35) rotate(-90) scale(0.93 1)" class="yt" text-anchor="middle">500</text>
<path d="M493.10 252.30 h-4" stroke="#1c1c80" stroke-width="1.1"/>
<text transform="translate(485.90 252.45) rotate(-90) scale(0.93 1)" class="yt" text-anchor="middle">1,000</text>
<path d="M493.10 215.40 h-4" stroke="#1c1c80" stroke-width="1.1"/>
<text transform="translate(485.90 208.20) rotate(-90) scale(0.93 1)" class="yt" text-anchor="middle">1,500</text>
<text transform="translate(476.90 279.90) rotate(-90)" class="cnt" text-anchor="middle">Count</text>
<text x="552.70" y="345.50" class="xl" text-anchor="middle">FL2 Propidium Iodide-A</text>
<text x="527.00" y="224.90" fill="#962e2e" stroke="#962e2e" class="gl">G1</text><text x="527.00" y="232.80" fill="#962e2e" stroke="#962e2e" class="gl">84.1%</text>
<text x="577.90" y="240.30" fill="#2c2c78" stroke="#2c2c78" class="gl">G2</text><text x="577.90" y="248.40" fill="#2c2c78" stroke="#2c2c78" class="gl">9.5%</text>
<text x="562.90" y="255.70" fill="#3f7f3f" stroke="#3f7f3f" class="gl">S</text><text x="562.90" y="263.40" fill="#3f7f3f" stroke="#3f7f3f" class="gl">5.1%</text>
<circle cx="622.50" cy="196.90" r="0.55" fill="#555"/>
<path d="M623.50 197.50 h7" stroke="#ccc" stroke-width="0.6"/>
<rect x="647.20" y="197.40" width="28.30" height="8.00" rx="4" ry="4" fill="#b9b9b9"/>
<text x="661.75" y="204.00" class="gate" text-anchor="middle">GATE</text>
<text x="678.80" y="203.30" class="r2">R2</text>
<path d="M674.00 281.90 H721.40 M674.00 276.10 V287.70 M721.40 276.10 V287.70" stroke="#ae8080" stroke-width="1.00" fill="none"/>
<path d="M729.10 267.40 H752.60 M729.10 261.60 V273.20 M752.60 261.60 V273.20" stroke="#2a2ab4" stroke-width="1.00" fill="none"/>
<path d="M723.10 291.50 V302.10 M729.95 291.50 V302.10 M723.10 296.80 H729.95" stroke="#4f8f4f" stroke-width="1" fill="none"/>
<path d="M681.10 325.40L681.10 324.23 L681.60 324.23L681.60 324.15 L682.10 324.15L682.10 324.01 L682.60 324.01L682.60 323.89 L683.10 323.89L683.10 323.76 L683.60 323.76L683.60 323.67 L684.10 323.67L684.10 323.62 L684.60 323.62L684.60 323.48 L685.10 323.48L685.10 323.39 L685.60 323.39L685.60 323.24 L686.10 323.24L686.10 323.05 L686.60 323.05L686.60 322.81 L687.10 322.81L687.10 322.49 L687.60 322.49L687.60 322.38 L688.10 322.38L688.10 322.13 L688.60 322.13L688.60 321.89 L689.10 321.89L689.10 321.38 L689.60 321.38L689.60 320.89 L690.10 320.89L690.10 320.45 L690.60 320.45L690.60 319.99 L691.10 319.99L691.10 319.56 L691.60 319.56L691.60 318.80 L692.10 318.80L692.10 317.50 L692.60 317.50L692.60 316.09 L693.10 316.09L693.10 314.29 L693.60 314.29L693.60 311.17 L694.10 311.17L694.10 307.58 L694.60 307.58L694.60 304.23 L695.10 304.23L695.10 300.53 L695.60 300.53L695.60 297.98 L696.10 297.98L696.10 295.16 L696.60 295.16L696.60 291.47 L697.10 291.47L697.10 286.30 L697.60 286.30L697.60 280.97 L698.10 280.97L698.10 278.77 L698.60 278.77L698.60 276.33 L699.10 276.33L699.10 273.80 L699.60 273.80L699.60 271.18 L700.10 271.18L700.10 268.73 L700.60 268.73L700.60 266.97 L701.10 266.97L701.10 264.34 L701.60 264.34L701.60 262.72 L702.10 262.72L702.10 261.27 L702.60 261.27L702.60 259.21 L703.10 259.21L703.10 258.59 L703.60 258.59L703.60 258.07 L704.10 258.07L704.10 257.62 L704.60 257.62L704.60 259.02 L705.10 259.02L705.10 260.63 L705.60 260.63L705.60 262.06 L706.10 262.06L706.10 264.13 L706.60 264.13L706.60 265.76 L707.10 265.76L707.10 267.18 L707.60 267.18L707.60 270.09 L708.10 270.09L708.10 272.60 L708.60 272.60L708.60 275.71 L709.10 275.71L709.10 279.07 L709.60 279.07L709.60 282.08 L710.10 282.08L710.10 285.11 L710.60 285.11L710.60 287.93 L711.10 287.93L711.10 291.13 L711.60 291.13L711.60 293.58 L712.10 293.58L712.10 295.84 L712.60 295.84L712.60 297.55 L713.10 297.55L713.10 299.42 L713.60 299.42L713.60 301.12 L714.10 301.12L714.10 302.92 L714.60 302.92L714.60 304.08 L715.10 304.08L715.10 305.49 L715.60 305.49L715.60 306.79 L716.10 306.79L716.10 308.02 L716.60 308.02L716.60 309.04 L717.10 309.04L717.10 309.91 L717.60 309.91L717.60 310.99 L718.10 310.99L718.10 312.39 L718.60 312.39L718.60 313.43 L719.10 313.43L719.10 314.54 L719.60 314.54L719.60 315.71 L720.10 315.71L720.10 316.91 L720.60 316.91L720.60 317.61 L721.10 317.61L721.10 318.36 L721.60 318.36L721.60 325.40 Z" fill="#ff0000"/>
<path d="M721.60 325.40L721.60 319.03 L722.10 319.03L722.10 318.91 L722.60 318.91L722.60 319.76 L723.10 319.76L723.10 320.06 L723.60 320.06L723.60 319.65 L724.10 319.65L724.10 320.53 L724.60 320.53L724.60 320.42 L725.10 320.42L725.10 321.60 L725.60 321.60L725.60 321.51 L726.10 321.51L726.10 321.43 L726.60 321.43L726.60 322.14 L727.10 322.14L727.10 322.62 L727.60 322.62L727.60 322.26 L727.90 322.26L727.90 325.40 Z" fill="#1f9a1f"/>
<path d="M727.90 325.40L727.90 322.26 L728.10 322.26L728.10 322.65 L728.60 322.65L728.60 322.89 L729.10 322.89L729.10 322.82 L729.60 322.82L729.60 322.39 L730.10 322.39L730.10 322.27 L730.60 322.27L730.60 322.72 L731.10 322.72L731.10 322.61 L731.60 322.61L731.60 323.12 L732.10 323.12L732.10 322.88 L732.60 322.88L732.60 323.11 L733.10 323.11L733.10 323.35 L733.60 323.35L733.60 323.05 L734.10 323.05L734.10 323.27 L734.60 323.27L734.60 323.30 L735.10 323.30L735.10 323.01 L735.60 323.01L735.60 323.43 L736.10 323.43L736.10 322.08 L736.60 322.08L736.60 323.65 L737.10 323.65L737.10 323.72 L737.60 323.72L737.60 323.52 L738.10 323.52L738.10 323.67 L738.60 323.67L738.60 323.85 L739.10 323.85L739.10 324.10 L739.60 324.10L739.60 324.23 L740.10 324.23L740.10 324.05 L740.60 324.05L740.60 323.70 L741.10 323.70L741.10 323.94 L741.60 323.94L741.60 323.69 L742.10 323.69L742.10 324.53 L742.60 324.53L742.60 324.45 L743.10 324.45L743.10 323.21 L743.60 323.21L743.60 324.11 L744.10 324.11L744.10 324.18 L744.60 324.18L744.60 324.48 L745.10 324.48L745.10 324.85 L745.60 324.85L745.60 325.40 Z" fill="#0000ff"/>
<path d="M643.70 207.60 H764.70" stroke="#52526c" stroke-width="1.05" fill="none"/>
<path d="M764.70 207.20 V325.40" stroke="#4a4a64" stroke-width="1.00" fill="none"/>
<path d="M647.50 207.60 V329.40" stroke="#555580" stroke-width="1.0" fill="none"/>
<path d="M643.00 325.40 H764.70" stroke="#34348c" stroke-width="1.0" fill="none"/>
<path d="M654.28 325.40 v3.4M658.25 325.40 v3.4M661.07 325.40 v3.4M663.25 325.40 v3.4M665.04 325.40 v3.4M666.55 325.40 v3.4M667.85 325.40 v3.4M669.01 325.40 v3.4M670.04 325.40 v4.2M676.82 325.40 v3.4M680.79 325.40 v3.4M683.61 325.40 v3.4M685.79 325.40 v3.4M687.58 325.40 v3.4M689.09 325.40 v3.4M690.39 325.40 v3.4M691.55 325.40 v3.4M692.58 325.40 v4.2M699.36 325.40 v3.4M703.33 325.40 v3.4M706.15 325.40 v3.4M708.33 325.40 v3.4M710.12 325.40 v3.4M711.62 325.40 v3.4M712.93 325.40 v3.4M714.08 325.40 v3.4M715.12 325.40 v4.2M721.90 325.40 v3.4M725.87 325.40 v3.4M728.68 325.40 v3.4M730.87 325.40 v3.4M732.65 325.40 v3.4M734.16 325.40 v3.4M735.47 325.40 v3.4M736.62 325.40 v3.4M737.65 325.40 v4.2M744.44 325.40 v3.4M748.41 325.40 v3.4M751.22 325.40 v3.4M753.41 325.40 v3.4M755.19 325.40 v3.4M756.70 325.40 v3.4M758.01 325.40 v3.4M759.16 325.40 v3.4M760.19 325.40 v4.2M764.70 325.40 v4.2" stroke="#1c1c80" stroke-width="1.05" fill="none"/>
<text x="642.60" y="336.80" class="t10">10</text><text transform="translate(646.80 335.80) scale(0.85 1)" class="texp" style="font-size:5.8px">2</text>
<text x="666.84" y="336.80" class="t10">10</text><text transform="translate(671.04 335.80) scale(0.85 1)" class="texp" style="font-size:5.8px">3</text>
<text x="689.18" y="336.80" class="t10">10</text><text transform="translate(693.38 335.80) scale(0.85 1)" class="texp" style="font-size:5.8px">4</text>
<text x="710.92" y="336.80" class="t10">10</text><text transform="translate(715.12 335.80) scale(0.85 1)" class="texp" style="font-size:5.8px">5</text>
<text x="733.25" y="336.80" class="t10">10</text><text transform="translate(737.45 335.80) scale(0.85 1)" class="texp" style="font-size:5.8px">6</text>
<text x="758.10" y="336.80" class="t10">10</text><text transform="translate(761.90 335.80) scale(0.9 1)" class="texp">7.2</text>
<text transform="translate(640.90 325.40) rotate(-90) scale(0.93 1)" class="yt" text-anchor="middle">0</text>
<path d="M647.50 288.40 h-4" stroke="#1c1c80" stroke-width="1.1"/>
<text transform="translate(640.30 288.55) rotate(-90) scale(0.93 1)" class="yt" text-anchor="middle">1,000</text>
<path d="M647.50 251.50 h-4" stroke="#1c1c80" stroke-width="1.1"/>
<text transform="translate(640.30 251.65) rotate(-90) scale(0.93 1)" class="yt" text-anchor="middle">2,000</text>
<path d="M647.50 214.50 h-4" stroke="#1c1c80" stroke-width="1.1"/>
<text transform="translate(640.30 207.30) rotate(-90) scale(0.93 1)" class="yt" text-anchor="middle">3,000</text>
<text transform="translate(631.30 279.15) rotate(-90)" class="cnt" text-anchor="middle">Count</text>
<text x="707.10" y="344.80" class="xl" text-anchor="middle">FL2 Propidium Iodide-A</text>
<text x="681.60" y="224.30" fill="#962e2e" stroke="#962e2e" class="gl">G1</text><text x="681.60" y="232.40" fill="#962e2e" stroke="#962e2e" class="gl">93.6%</text>
<text x="732.20" y="239.70" fill="#2c2c78" stroke="#2c2c78" class="gl">G2</text><text x="732.20" y="247.80" fill="#2c2c78" stroke="#2c2c78" class="gl">3.5%</text>
<text x="716.80" y="255.20" fill="#3f7f3f" stroke="#3f7f3f" class="gl">S</text><text x="716.80" y="263.10" fill="#3f7f3f" stroke="#3f7f3f" class="gl">2.3%</text>
<text x="59.50" y="172.70" class="cap">Aβ+Control</text>
<text x="204.30" y="172.70" class="cap">Aβ-Control</text>
<text transform="translate(83.30 365.70) scale(0.9 1)" class="cap2">1/1</text>
<text transform="translate(228.10 365.70) scale(0.9 1)" class="cap2">1/2</text>
<text transform="translate(320.40 365.70) scale(0.9 1)" class="cap2">1/4</text>
<text transform="translate(468.90 365.70) scale(0.9 1)" class="cap2">1/8</text>
<text transform="translate(565.00 365.70) scale(0.9 1)" class="cap2">1/16</text>
</svg>
</body></html>
